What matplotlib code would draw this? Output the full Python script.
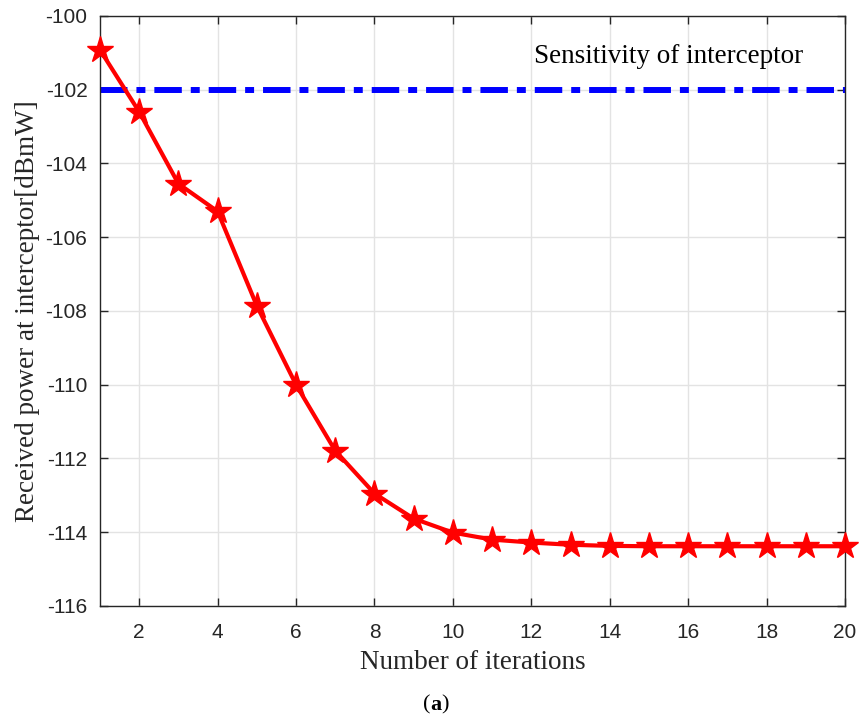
import matplotlib
matplotlib.use("Agg")
import matplotlib.pyplot as plt

iterations = list(range(1, 21))
received_power = [-100.92, -102.6, -104.55, -105.3, -107.86, -110.0, -111.79,
                  -112.95, -113.63, -114.01, -114.2, -114.28, -114.34, -114.37,
                  -114.38, -114.38, -114.38, -114.38, -114.38, -114.38]
sensitivity = -102.0
x_ticks = [2, 4, 6, 8, 10, 12, 14, 16, 18, 20]
y_ticks = [-116, -114, -112, -110, -108, -106, -104, -102, -100]

plt.rcParams["axes.unicode_minus"] = False
serif = ["Liberation Serif", "DejaVu Serif"]
sans = ["Liberation Sans", "DejaVu Sans"]

fig = plt.figure(figsize=(8.61, 7.24), dpi=100)
ax = fig.add_axes([0.1161, 0.163, 0.8653, 0.815])

ax.axhline(sensitivity, color="#0000ff", lw=4.3,
           dashes=(4.6, 1.5, 1.5, 1.5), zorder=2)
ax.plot(iterations, received_power, color="#ff0000", lw=3.0, marker="*",
        markersize=20, markerfacecolor="#ff0000", markeredgecolor="#ff0000",
        zorder=3, clip_on=False)

ax.text(15.49, -101.1, "Sensitivity of interceptor", family=serif,
        fontsize=19.5, ha="center", va="center")

ax.set_xlim(1, 20)
ax.set_ylim(-116, -100)
ax.set_xticks(x_ticks)
ax.set_yticks(y_ticks)
ax.grid(True, color="#e3e3e3", lw=1.0)
ax.set_axisbelow(True)

for s in ax.spines.values():
    s.set_color("#262626")
    s.set_linewidth(1.0)
ax.tick_params(direction="in", length=6, width=1.0, color="#262626",
               top=True, right=True, labelsize=15, labelcolor="#262626")
ax.tick_params(axis="x", pad=12)
ax.tick_params(axis="y", pad=9)
for lab in ax.get_xticklabels() + ax.get_yticklabels():
    lab.set_family(sans)

ax.set_xlabel("Number of iterations", family=serif, fontsize=19.5,
              color="#262626", labelpad=6)
ax.set_ylabel("Received power at interceptor[dBmW]", family=serif,
              fontsize=19.5, color="#262626", labelpad=4)

fig.text(0.5, 0.026, "(", family=serif, fontsize=16, ha="right", va="center")
fig.text(0.5, 0.026, "a", family=serif, fontsize=16, fontweight="bold",
         ha="left", va="center")
fig.text(0.5125, 0.026, ")", family=serif, fontsize=16, ha="left",
         va="center")

fig.savefig("out.png", dpi=100)
